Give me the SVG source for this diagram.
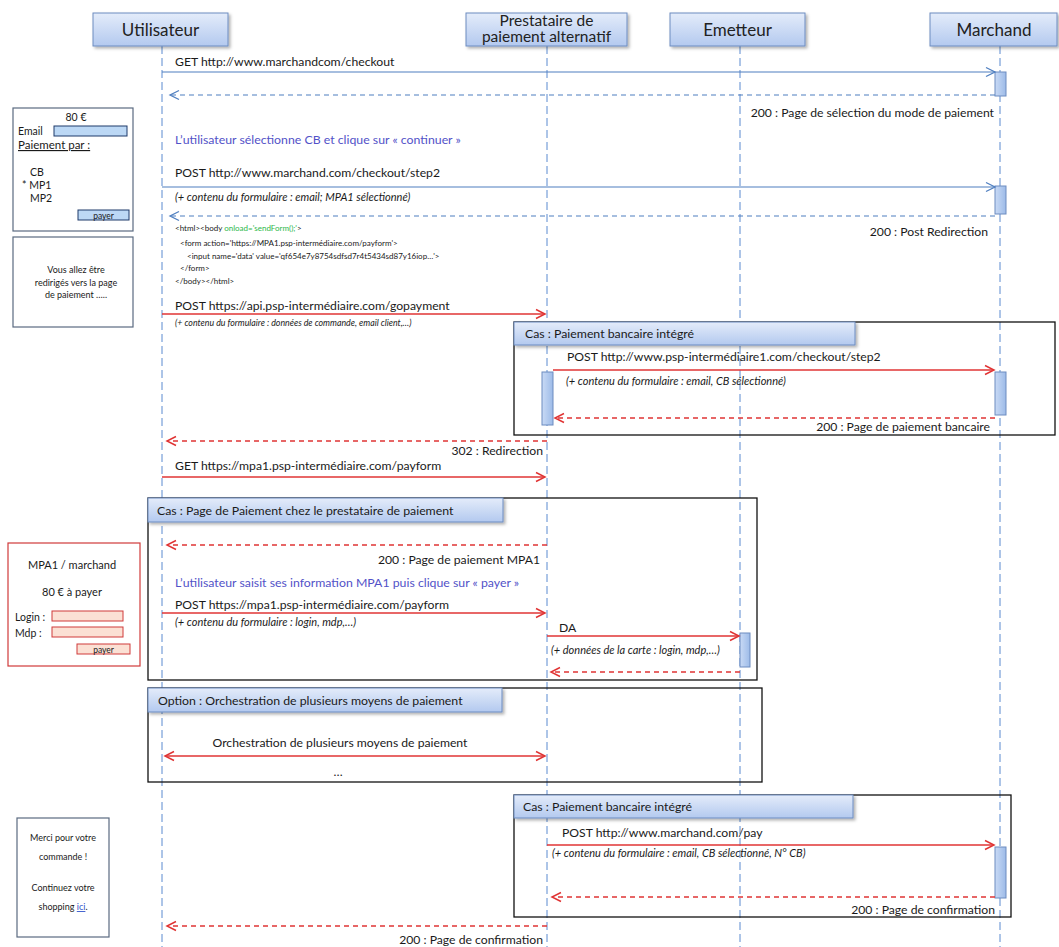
<svg xmlns="http://www.w3.org/2000/svg" width="1059" height="947" viewBox="0 0 1059 947">
<defs>
  <linearGradient id="hdr" x1="0" y1="0" x2="0" y2="1">
    <stop offset="0" stop-color="#e4ecfa"/>
    <stop offset="1" stop-color="#b3c9ef"/>
  </linearGradient>
  <linearGradient id="act" x1="0" y1="0" x2="1" y2="0">
    <stop offset="0" stop-color="#c9daf5"/>
    <stop offset="1" stop-color="#9dbbe8"/>
  </linearGradient>
  <filter id="sh" x="-5%" y="-20%" width="115%" height="160%">
    <feDropShadow dx="2" dy="2" stdDeviation="1.5" flood-color="#000" flood-opacity="0.3"/>
  </filter>
  <marker id="ab" markerUnits="userSpaceOnUse" markerWidth="12" markerHeight="12" refX="10" refY="5" orient="auto-start-reverse" viewBox="0 0 12 10">
    <path d="M1,0.5 L10,5 L1,9.5" fill="none" stroke="#4f7fc0" stroke-width="1.3"/>
  </marker>
  <marker id="ar" markerUnits="userSpaceOnUse" markerWidth="12" markerHeight="12" refX="10" refY="5" orient="auto-start-reverse" viewBox="0 0 12 10">
    <path d="M1,0.5 L10,5 L1,9.5" fill="none" stroke="#e03535" stroke-width="1.5"/>
  </marker>
</defs>
<style>
  text { font-family: Lato, "Liberation Sans", sans-serif; fill: #1a1a1a; }
  .hd { font-size: 17px; text-anchor: middle; fill: #222; }
  .hbox { fill: url(#hdr); stroke: #6d8cc0; stroke-width: 1; filter: url(#sh); }
  .life { stroke: #5a8ad0; stroke-width: 1; stroke-dasharray: 8 4; fill: none; }
  .m { font-size: 12.2px; }
  .mr { font-size: 12.2px; text-anchor: end; }
  .it { font-size: 11px; font-style: italic; }
  .code { font-size: 8px; }
  .note { font-size: 12.3px; fill: #5252c8; }
  .bs { stroke: #4f7fc0; stroke-width: 1.2; fill: none; marker-end: url(#ab); }
  .bd { stroke: #4f7fc0; stroke-width: 1.2; stroke-dasharray: 5 4; fill: none; marker-end: url(#ab); }
  .rs { stroke: #e03535; stroke-width: 1.5; fill: none; marker-end: url(#ar); }
  .rd { stroke: #e03535; stroke-width: 1.5; stroke-dasharray: 5 4; fill: none; marker-end: url(#ar); }
  .actv { fill: url(#act); stroke: #6d8cc0; stroke-width: 1; }
  .frame { fill: none; stroke: #111; stroke-width: 1.3; }
  .fh { fill: url(#hdr); stroke: #6d8cc0; stroke-width: 1; filter: url(#sh); }
  .fht { font-size: 12.3px; }
  .panel { fill: #fff; stroke: #5a6a80; stroke-width: 1.2; }
  .pt { font-size: 10.5px; }
  .ptc { font-size: 10.5px; text-anchor: middle; }
  .rin { fill: #fbe0d4; stroke: #d03a3a; stroke-width: 1; }
  .bin { fill: #bcd8f5; stroke: #1f3a6a; stroke-width: 1; }
</style>

<!-- Lifelines -->
<g id="lifelines">
  <line class="life" x1="162" y1="46" x2="162" y2="947"/>
  <line class="life" x1="547" y1="46" x2="547" y2="947"/>
  <line class="life" x1="740" y1="46" x2="740" y2="947"/>
  <line class="life" x1="1000" y1="46" x2="1000" y2="947"/>
</g>

<!-- Participants -->
<g id="utilisateur">
  <rect class="hbox" x="93" y="13" width="135" height="33"/>
  <text class="hd" x="160.5" y="35.5">Utilisateur</text>
</g>
<g id="prestataire">
  <rect class="hbox" x="466" y="13" width="161" height="33"/>
  <text class="hd" x="546.5" y="26" style="font-size:15.5px">Prestataire de</text>
  <text class="hd" x="546.5" y="42" style="font-size:15.5px">paiement alternatif</text>
</g>
<g id="emetteur">
  <rect class="hbox" x="670" y="13" width="135" height="33"/>
  <text class="hd" x="737.5" y="35.5">Emetteur</text>
</g>
<g id="marchand">
  <rect class="hbox" x="930" y="13" width="127" height="33"/>
  <text class="hd" x="994" y="35.5">Marchand</text>
</g>

<!-- Frames -->
<g id="frame-cas1">
  <rect class="frame" x="514" y="322" width="541" height="113"/>
  <rect class="fh" x="514" y="322" width="341" height="23"/>
  <text class="fht" x="525" y="338">Cas : Paiement bancaire  intégré</text>
</g>
<g id="frame-cas2">
  <rect class="frame" x="148" y="498" width="609" height="182"/>
  <rect class="fh" x="148" y="498" width="355" height="24"/>
  <text class="fht" x="157" y="514.5">Cas : Page de Paiement chez le prestataire de paiement</text>
</g>
<g id="frame-option">
  <rect class="frame" x="148" y="688" width="614" height="94"/>
  <rect class="fh" x="148" y="688" width="354" height="24"/>
  <text class="fht" x="158" y="704.5">Option : Orchestration de plusieurs moyens de paiement</text>
</g>
<g id="frame-cas3">
  <rect class="frame" x="514" y="795" width="497" height="122"/>
  <rect class="fh" x="514" y="795" width="339" height="23"/>
  <text class="fht" x="523" y="811">Cas : Paiement bancaire intégré</text>
</g>

<!-- Activations -->
<g id="activations">
  <rect class="actv" x="995" y="72" width="11" height="24"/>
  <rect class="actv" x="995" y="186" width="11" height="28"/>
  <rect class="actv" x="542" y="372" width="11" height="53"/>
  <rect class="actv" x="995" y="372" width="11" height="43"/>
  <rect class="actv" x="740" y="633" width="10" height="34"/>
  <rect class="actv" x="995" y="847" width="11" height="51"/>
</g>

<!-- Connectors -->
<g id="connectors">
  <line class="bs" x1="162" y1="72" x2="995" y2="72"/>
  <line class="bd" x1="995" y1="95" x2="170" y2="95"/>
  <line class="bs" x1="162" y1="187" x2="995" y2="187"/>
  <line class="bd" x1="995" y1="216" x2="170" y2="216"/>
  <line class="rs" x1="162" y1="314" x2="545" y2="314"/>
  <line class="rs" x1="553" y1="370" x2="994" y2="370"/>
  <line class="rd" x1="995" y1="418" x2="555" y2="418"/>
  <line class="rd" x1="547" y1="441" x2="167" y2="441"/>
  <line class="rs" x1="162" y1="477" x2="545" y2="477"/>
  <line class="rd" x1="547" y1="545" x2="167" y2="545"/>
  <line class="rs" x1="162" y1="613" x2="545" y2="613"/>
  <line class="rs" x1="547" y1="636" x2="739" y2="636"/>
  <line class="rd" x1="740" y1="672" x2="551" y2="672"/>
  <line class="rs" x1="165" y1="756" x2="545" y2="756" style="marker-start:url(#ar)"/>
  <line class="rs" x1="547" y1="845" x2="994" y2="845"/>
  <line class="rd" x1="995" y1="897" x2="552" y2="897"/>
  <line class="rd" x1="547" y1="926" x2="167" y2="926"/>
</g>

<!-- Message labels -->
<g id="labels">
  <text class="m" x="175" y="66">GET http://www.marchandcom/checkout</text>
  <text class="mr" x="994" y="117">200 : Page de sélection du mode de paiement</text>
  <text class="note" x="175" y="144">L’utilisateur sélectionne CB et clique sur « continuer »</text>
  <text class="m" x="175" y="177">POST http://www.marchand.com/checkout/step2</text>
  <text class="it" x="175" y="201">(+ contenu du formulaire : email; MPA1 sélectionné)</text>
  <text class="mr" x="988" y="236">200 : Post Redirection</text>
  <text class="code" x="175" y="231">&lt;html&gt;&lt;body <tspan fill="#2db84a">onload='sendForm();'</tspan>&gt;</text>
  <text class="code" x="180" y="246">&lt;form action='https://MPA1.psp-intermédiaire.com/payform'&gt;</text>
  <text class="code" x="187" y="259">&lt;input name='data' value='qf654e7y8754sdfsd7r4t5434sd87y16iop…'&gt;</text>
  <text class="code" x="180" y="271">&lt;/form&gt;</text>
  <text class="code" x="175" y="284">&lt;/body&gt;&lt;/html&gt;</text>
  <text class="m" x="175" y="310">POST https://api.psp-intermédiaire.com/gopayment</text>
  <text class="it" x="175" y="326" style="font-size:8.8px">(+ contenu du formulaire : données de commande,  email client,…)</text>
  <text class="m" x="567" y="361">POST http://www.psp-intermédiaire1.com/checkout/step2</text>
  <text class="it" x="566" y="385">(+ contenu du formulaire : email, CB sélectionné)</text>
  <text class="mr" x="990" y="431">200 : Page de paiement bancaire</text>
  <text class="mr" x="543" y="455">302 : Redirection</text>
  <text class="m" x="175" y="470">GET https://mpa1.psp-intermédiaire.com/payform</text>
  <text class="mr" x="540" y="564">200 : Page de paiement MPA1</text>
  <text class="note" x="175" y="587">L’utilisateur saisit ses information MPA1 puis clique sur « payer »</text>
  <text class="m" x="175" y="609">POST https://mpa1.psp-intermédiaire.com/payform</text>
  <text class="it" x="175" y="626">(+ contenu du formulaire : login, mdp,…)</text>
  <text class="m" x="559" y="632">DA</text>
  <text class="it" x="551" y="654">(+ données de la carte : login, mdp,…)</text>
  <text class="m" x="340" y="747" text-anchor="middle">Orchestration de plusieurs moyens de paiement</text>
  <text class="m" x="338" y="776" text-anchor="middle">…</text>
  <text class="m" x="562" y="837">POST http://www.marchand.com/pay</text>
  <text class="it" x="552" y="857">(+ contenu du formulaire : email, CB sélectionné, N° CB)</text>
  <text class="mr" x="995" y="914">200 : Page de confirmation</text>
  <text class="mr" x="543" y="944">200 : Page de confirmation</text>
</g>

<!-- Screen mockups -->
<g id="screen-selection">
  <rect class="panel" x="13" y="108" width="120" height="123"/>
  <text class="ptc" x="76" y="121">80 €</text>
  <text class="pt" x="18" y="135">Email</text>
  <rect class="bin" x="54" y="126" width="73" height="10"/>
  <text class="pt" x="18" y="149" style="font-size:11.5px" text-decoration="underline">Paiement par :</text>
  <text class="pt" x="30" y="176">CB</text>
  <text class="pt" x="22" y="189">* MP1</text>
  <text class="pt" x="30" y="202">MP2</text>
  <rect class="bin" x="78" y="210" width="51" height="10"/>
  <text class="ptc" x="103.5" y="218.5" style="font-size:8.5px">payer</text>
</g>
<g id="screen-redirect">
  <rect class="panel" x="13" y="237" width="120" height="90"/>
  <text class="ptc" x="76" y="273" style="font-size:9px">Vous allez être</text>
  <text class="ptc" x="76" y="286" style="font-size:9px">redirigés vers la page</text>
  <text class="ptc" x="76" y="298" style="font-size:9px">de paiement …..</text>
</g>
<g id="screen-mpa1">
  <rect x="8" y="543" width="132" height="123" fill="#fff" stroke="#d03a3a" stroke-width="1.2"/>
  <text class="ptc" x="72" y="569" style="font-size:11px">MPA1 / marchand</text>
  <text class="ptc" x="72" y="596" style="font-size:11px">80 € à payer</text>
  <text class="pt" x="15" y="621">Login :</text>
  <rect class="rin" x="52" y="611" width="71" height="10"/>
  <text class="pt" x="15" y="637">Mdp  :</text>
  <rect class="rin" x="52" y="627" width="71" height="10"/>
  <rect class="rin" x="77" y="644" width="53" height="10"/>
  <text class="ptc" x="103.5" y="652.5" style="font-size:8.5px">payer</text>
</g>
<g id="screen-merci">
  <rect class="panel" x="17" y="818" width="92" height="119"/>
  <text class="ptc" x="63" y="841" style="font-size:9px">Merci pour votre</text>
  <text class="ptc" x="63" y="860" style="font-size:9px">commande !</text>
  <text class="ptc" x="63" y="891" style="font-size:9px">Continuez votre</text>
  <text class="ptc" x="63" y="910" style="font-size:9px">shopping <tspan fill="#3355cc" text-decoration="underline">ici</tspan>.</text>
</g>
</svg>
